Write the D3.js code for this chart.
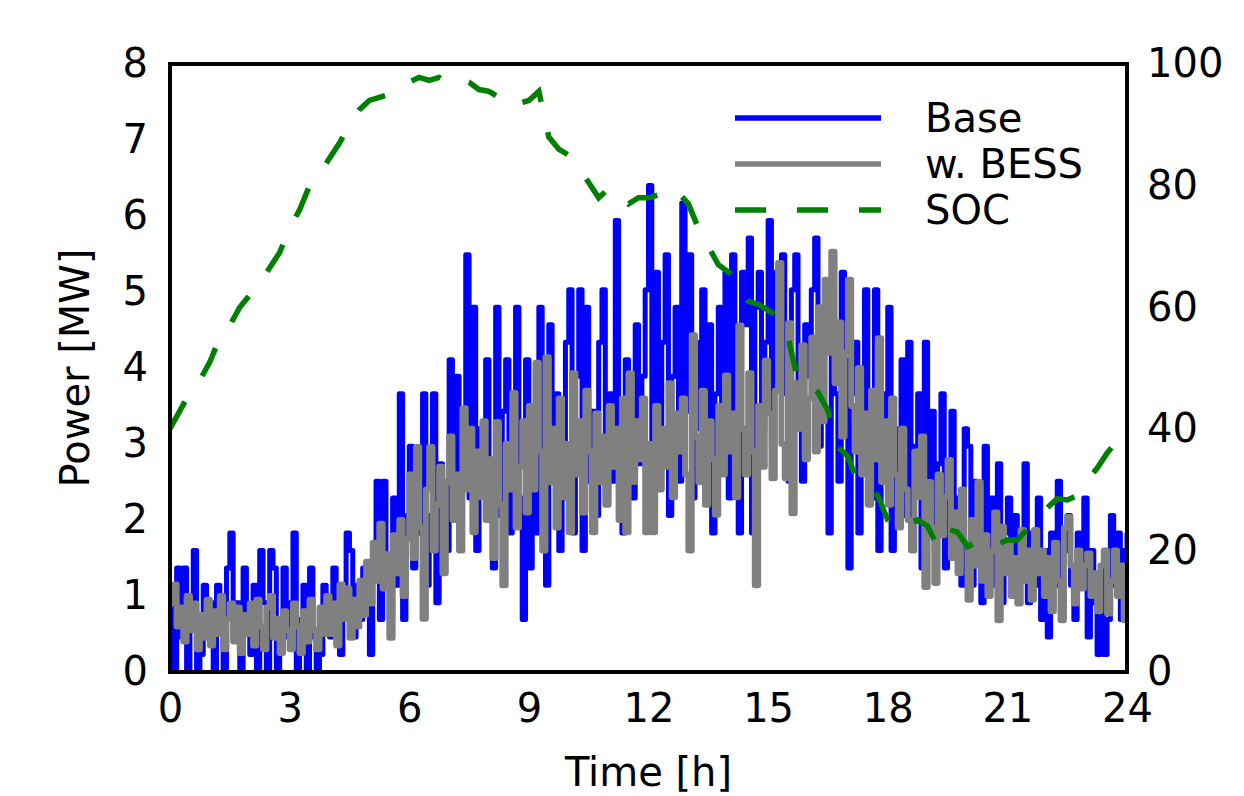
<!DOCTYPE html>
<html>
<head>
<meta charset="utf-8">
<script src="https://cdn.jsdelivr.net/npm/d3@7"></script>
<style>
  body { margin: 0; background: #fff; }
  text { font-family: "DejaVu Sans", sans-serif; }
</style>
</head>
<body>
<div id="chart"></div>
<script>
// Power with / without BESS and battery state of charge over one day

// 5-minute samples, 00:00 .. 24:00 (one row = one hour)
const stepMinutes = 5;

const baseMW = [
  1.14, 0, 1.37, 0.46, 1.37, 0, 0.91, 1.6, 0, 0.23, 1.14, 0.46,
  0.91, 0, 1.14, 0.69, 0, 1.37, 1.83, 0.46, 0.91, 0, 1.37, 0.69,
  0.23, 1.14, 0, 1.6, 0.91, 0, 1.6, 1.37, 0, 0.69, 1.37, 0.46,
  0.91, 1.83, 0, 0.69, 1.14, 0, 1.37, 0.46, 0, 0.23, 1.14, 0.69,
  0.46, 1.37, 0.91, 0.23, 1.14, 1.83, 1.6, 0.46, 1.14, 0.69, 1.37, 0.91,
  0.23, 1.6, 2.51, 0.69, 2.51, 1.37, 0.69, 2.29, 1.14, 3.66, 0.69, 2.06,
  2.97, 1.37, 2.51, 1.83, 3.66, 1.14, 2.06, 3.66, 0.91, 2.74, 2.29, 1.6,
  4.11, 2.06, 3.89, 1.6, 2.97, 5.49, 2.29, 4.8, 1.6, 3.2, 2.51, 4.11,
  2.74, 1.37, 4.8, 2.06, 3.43, 4.11, 1.83, 2.97, 4.8, 2.29, 0.69, 4.11,
  1.37, 3.43, 1.83, 4.8, 2.51, 1.14, 4.57, 2.74, 3.66, 1.6, 2.29, 4.34,
  5.03, 1.83, 3.89, 5.03, 1.6, 4.8, 2.51, 3.43, 2.06, 4.34, 5.03, 2.29,
  3.66, 2.51, 5.94, 2.97, 1.83, 4.11, 3.43, 2.29, 4.57, 2.74, 3.89, 5.03,
  6.4, 2.29, 5.26, 3.2, 4.34, 5.49, 2.06, 3.89, 4.8, 2.51, 6.17, 3.43,
  5.49, 2.29, 4.34, 3.2, 5.03, 2.51, 4.57, 1.83, 3.66, 4.8, 2.74, 5.26,
  2.29, 5.49, 3.43, 1.83, 5.26, 4.57, 5.71, 1.83, 4.8, 5.26, 3.2, 4.34,
  5.94, 2.97, 5.26, 4.11, 5.49, 3.66, 2.51, 5.03, 5.49, 3.43, 2.51, 4.57,
  3.89, 5.03, 5.71, 2.97, 4.57, 3.43, 1.83, 5.03, 3.66, 2.51, 5.26, 4.11,
  1.37, 3.66, 4.34, 1.83, 2.97, 5.03, 3.43, 2.29, 5.03, 1.6, 3.66, 2.74,
  4.8, 1.6, 3.2, 2.51, 4.11, 2.06, 4.34, 1.83, 2.97, 3.66, 1.37, 4.34,
  2.29, 3.43, 1.6, 2.74, 3.66, 1.37, 2.51, 3.43, 1.83, 2.29, 1.14, 3.2,
  2.97, 1.14, 2.51, 1.83, 0.91, 2.97, 1.6, 2.29, 1.14, 2.74, 0.91, 1.83,
  2.29, 1.37, 2.06, 0.91, 1.6, 2.74, 0.91, 1.83, 1.14, 2.29, 0.69, 1.6,
  0.46, 1.83, 1.14, 2.51, 0.69, 1.6, 2.06, 1.14, 0.69, 1.83, 1.37, 2.29,
  0.46, 1.6, 0.91, 0.23, 1.37, 0.23, 0.69, 2.06, 1.14, 1.83, 0.69, 1.6,
  1.83
];

const bessMW = [
  0.9, 1.15, 0.6, 0.85, 0.4, 1.0, 0.55, 0.9, 0.3, 0.75, 0.45, 0.95,
  0.35, 0.8, 0.5, 1.0, 0.3, 0.7, 0.9, 0.4, 0.85, 0.25, 0.75, 0.5,
  0.9, 0.35, 0.95, 0.6, 0.3, 0.85, 1.0, 0.45, 0.7, 0.25, 0.8, 0.55,
  0.3, 0.9, 0.6, 0.25, 0.8, 0.4, 0.95, 0.55, 0.3, 0.85, 0.5, 1.0,
  0.5, 0.9, 0.35, 1.15, 0.7, 1.1, 0.45, 0.95, 0.6, 1.2, 0.75, 1.45,
  0.9, 1.7, 1.2, 1.95, 1.1, 1.55, 0.45, 1.8, 1.3, 2.0, 1.0, 1.75,
  2.6, 1.5, 2.96, 1.9, 0.7, 2.4, 2.96, 1.6, 2.2, 2.7, 1.3, 2.5,
  3.1, 2.0, 2.6, 1.6, 3.47, 2.4, 3.2, 1.84, 2.9, 2.3, 3.3, 2.0,
  2.8, 1.5, 3.29, 2.2, 1.14, 3.0, 2.4, 3.67, 1.9, 2.7, 3.3, 2.1,
  3.5, 2.4, 4.07, 2.9, 1.6, 4.14, 2.5, 3.2, 1.9, 3.6, 2.3, 3.0,
  1.84, 3.93, 2.6, 3.3, 2.1, 3.7, 2.9, 1.84, 3.4, 2.5, 3.1, 2.2,
  3.5, 2.7, 3.2, 2.0, 3.6, 1.84, 3.93, 2.5, 3.3, 2.8, 3.6, 1.84,
  3.0, 1.84, 3.5, 2.4, 3.2, 2.7, 3.8, 2.3, 3.4, 2.9, 3.6, 2.6,
  1.6, 4.43, 3.1, 2.5, 3.7, 2.2, 3.3, 2.8, 2.07, 3.5, 2.6, 3.9,
  2.9, 3.4, 2.3, 4.56, 3.2, 2.6, 3.93, 2.9, 1.14, 3.5, 2.7, 4.1,
  3.4, 2.55, 3.7, 5.38, 3.0, 2.55, 4.59, 2.09, 3.8, 3.2, 4.3, 2.8,
  3.6, 4.4, 2.9, 4.8, 3.3, 5.16, 4.2, 5.53, 3.8, 4.6, 3.1, 4.2,
  5.16, 3.5, 2.9, 4.0, 2.6, 3.4, 2.2, 3.7, 2.8, 4.39, 2.5, 3.3,
  2.2, 3.6, 2.6, 1.9, 3.2, 2.4, 2.0, 1.6, 2.9, 2.3, 3.1, 1.12,
  2.5, 1.9, 1.17, 2.6, 1.8, 2.3, 2.79, 1.5, 2.1, 1.3, 2.4, 1.7,
  0.95, 2.0, 1.4, 2.5, 1.2, 1.8, 1.0, 1.6, 2.1, 0.68, 1.91, 1.3,
  1.7, 1.0, 1.5, 0.9, 1.87, 1.2, 1.6, 0.95, 1.87, 1.3, 1.6, 1.0,
  1.5, 0.8, 1.7, 1.2, 0.68, 1.9, 2.04, 1.4, 0.9, 1.6, 1.1, 1.4,
  1.56, 1.0, 1.3, 0.8, 1.4, 1.6, 0.77, 1.2, 1.6, 1.0, 1.4, 0.68,
  1.2
];

// state of charge, 15-minute samples (one row = one hour)
const socStepMinutes = 15;
const socPct = [
  40, 43, 46, 48,
  51, 55, 57, 60,
  62, 64, 66.5, 69,
  73, 76, 80, 82,
  84.5, 87, 90, 92.5,
  94, 94.5, 95, 96.5,
  97, 97.8, 97.3, 97.8,
  96.8, 97.5, 97, 95.8,
  95.5, 94.5, 95, 93.5,
  94, 95.5, 88, 86,
  85, 83, 80.5, 78,
  79.5, 79, 77, 78,
  78, 78.5, 77.5, 78.8,
  77, 73, 70, 67,
  65.8, 64.5, 61, 60.5,
  59.5, 58.4, 55, 48,
  47.5, 46, 43, 37,
  35.5, 31, 30.5, 29,
  25, 23.4, 24.5, 25,
  24, 20.6, 23.5, 23,
  20.6, 21.5, 22, 21,
  21.7, 21.7, 23.5, 25.5,
  27, 28.5, 28.3, 29,
  31.5, 33.5, 36, 38,
  40.5
];

const xTicks = [0, 3, 6, 9, 12, 15, 18, 21, 24];
const yTicks = [0, 1, 2, 3, 4, 5, 6, 7, 8];
const socTicks = [0, 20, 40, 60, 80, 100];

const series = [
  { name: "Base", values: baseMW, color: "#0000ff", width: 5 },
  { name: "w. BESS", values: bessMW, color: "#808080", width: 6 }
];

const margin = { top: 64, right: 117, bottom: 124, left: 170 },
    width = 1244 - margin.left - margin.right,
    height = 796 - margin.top - margin.bottom;

const svg = d3.select("#chart")
    .append("svg")
    .attr("width", width + margin.left + margin.right)
    .attr("height", height + margin.top + margin.bottom)
    .append("g")
    .attr("transform", "translate(" + margin.left + "," + margin.top + ")");

// scales
const xScale = d3.scaleLinear().domain([0, 24]).range([0, width]);
const yScale = d3.scaleLinear().domain([0, 8]).range([height, 0]);
const socScale = d3.scaleLinear().domain([0, 100]).range([height, 0]);

svg.append("clipPath").attr("id", "plot-clip")
    .append("rect").attr("width", width).attr("height", height);

// axes (no tick marks, labels only)
const fontSize = "40px";

const xAxis = svg.append("g")
    .attr("transform", "translate(0," + height + ")")
    .call(d3.axisBottom(xScale).tickValues(xTicks).tickSize(0).tickPadding(22));

const yAxis = svg.append("g")
    .call(d3.axisLeft(yScale).tickValues(yTicks).tickSize(0).tickPadding(22));

const socAxis = svg.append("g")
    .attr("transform", "translate(" + width + ",0)")
    .call(d3.axisRight(socScale).tickValues(socTicks).tickSize(0).tickPadding(20));

[xAxis, yAxis, socAxis].forEach(function (ax) {
    ax.select(".domain").remove();
    ax.selectAll("text")
        .attr("font-family", "DejaVu Sans")
        .attr("font-size", fontSize)
        .attr("fill", "#000");
});

svg.append("text")
    .attr("x", width / 2)
    .attr("y", height + 114)
    .attr("text-anchor", "middle")
    .attr("font-size", fontSize)
    .text("Time [h]");

svg.append("text")
    .attr("transform", "rotate(-90)")
    .attr("x", -height / 2)
    .attr("y", -81)
    .attr("text-anchor", "middle")
    .attr("font-size", fontSize)
    .text("Power [MW]");

// power lines (held values -> step curve)
const plot = svg.append("g").attr("clip-path", "url(#plot-clip)");

const powerLine = d3.line()
    .curve(d3.curveStepAfter)
    .x((d, i) => xScale(i * stepMinutes / 60))
    .y(d => yScale(d));

series.forEach(function (s) {
    plot.append("path")
        .datum(s.values)
        .attr("d", powerLine)
        .attr("fill", "none")
        .attr("stroke", s.color)
        .attr("stroke-width", s.width)
        .attr("stroke-linejoin", "round");
});

// SOC line on the right axis
const socLine = d3.line()
    .x((d, i) => xScale(i * socStepMinutes / 60))
    .y(d => socScale(d));

plot.append("path")
    .datum(socPct)
    .attr("d", socLine)
    .attr("fill", "none")
    .attr("stroke", "#008000")
    .attr("stroke-width", 5.5)
    .attr("stroke-dasharray", "31,31");

// frame
svg.append("rect")
    .attr("width", width)
    .attr("height", height)
    .attr("fill", "none")
    .attr("stroke", "#000")
    .attr("stroke-width", 4);

// legend
const legendItems = [
    { name: "Base", color: "#0000ff", dash: null },
    { name: "w. BESS", color: "#808080", dash: null },
    { name: "SOC", color: "#008000", dash: "31,31" }
];

const legend = svg.append("g")
    .attr("transform", "translate(" + (735 - margin.left) + "," + (118 - margin.top) + ")");

legendItems.forEach(function (item, i) {
    const row = legend.append("g").attr("transform", "translate(0," + (i * 46) + ")");
    row.append("line")
        .attr("x1", 0).attr("x2", 146)
        .attr("stroke", item.color)
        .attr("stroke-width", 5.5)
        .attr("stroke-dasharray", item.dash);
    row.append("text")
        .attr("x", 190)
        .attr("y", 14)
        .attr("font-size", fontSize)
        .text(item.name);
});
</script>
</body>
</html>
